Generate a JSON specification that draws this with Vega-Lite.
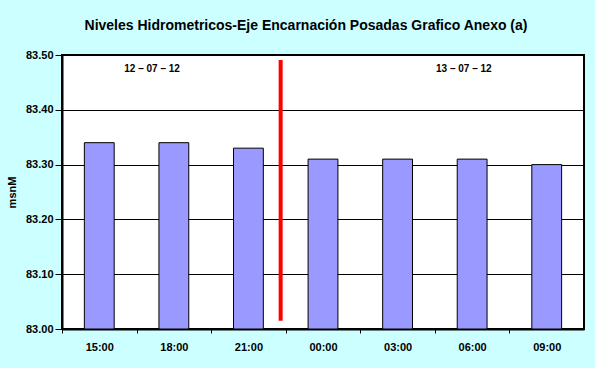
{
  "$schema": "https://vega.github.io/schema/vega-lite/v6.json",
  "width": 522,
  "height": 274,
  "autosize": "none",
  "padding": {"left": 62, "top": 55, "right": 11, "bottom": 39},
  "background": "#CCFFFF",
  "title": {
    "text": "Niveles Hidrometricos-Eje Encarnación Posadas Grafico Anexo (a)",
    "font": "Liberation Sans",
    "fontSize": 14,
    "fontWeight": "bold",
    "color": "black",
    "anchor": "middle",
    "frame": "group",
    "dx": -17,
    "offset": 16
  },
  "config": {
    "font": "Liberation Sans",
    "view": {"fill": "white", "stroke": "black", "strokeWidth": 2},
    "axis": {
      "labelFont": "Liberation Sans",
      "labelFontSize": 11,
      "labelFontWeight": "bold",
      "labelColor": "black",
      "titleFont": "Liberation Sans",
      "titleFontSize": 11,
      "titleFontWeight": "bold",
      "titleColor": "black",
      "tickColor": "black",
      "domainColor": "black",
      "domainWidth": 2
    }
  },
  "datasets": {
    "levels": [
      {"t": "15:00", "v": 83.34},
      {"t": "18:00", "v": 83.34},
      {"t": "21:00", "v": 83.33},
      {"t": "00:00", "v": 83.31},
      {"t": "03:00", "v": 83.31},
      {"t": "06:00", "v": 83.31},
      {"t": "09:00", "v": 83.30}
    ],
    "divider": [{"t": "21:00", "top": 83.491, "bottom": 83.015}],
    "day1": [{"t": "18:00", "y": 83.474, "label": "12 – 07 – 12"}],
    "day2": [{"t": "06:00", "y": 83.474, "label": "13 – 07 – 12"}]
  },
  "layer": [
    {
      "data": {"name": "levels"},
      "mark": {"type": "bar", "fill": "#9999FF", "stroke": "black", "strokeWidth": 1},
      "encoding": {
        "x": {
          "field": "t",
          "type": "nominal",
          "sort": null,
          "scale": {
            "domain": ["15:00", "18:00", "21:00", "00:00", "03:00", "06:00", "09:00"],
            "paddingInner": 0.6,
            "paddingOuter": 0.3
          },
          "axis": {
            "title": null,
            "labelAngle": 0,
            "tickSize": 4,
            "labelPadding": 8,
            "tickOffset": -37.29,
            "labelOffset": 37.29
          }
        },
        "y": {
          "field": "v",
          "type": "quantitative",
          "scale": {"domain": [83, 83.5], "zero": false, "nice": false},
          "axis": {
            "title": "msnM",
            "values": [83, 83.1, 83.2, 83.3, 83.4, 83.5],
            "format": ".2f",
            "tickSize": 7,
            "labelPadding": 2,
            "titlePadding": 8,
            "grid": true,
            "gridColor": "black",
            "gridWidth": 1,
            "gridOpacity": 1
          }
        },
        "y2": {"datum": 83}
      }
    },
    {
      "data": {"name": "divider"},
      "mark": {"type": "rule", "color": "#FF0000", "strokeWidth": 4},
      "encoding": {
        "x": {"field": "t", "type": "nominal", "sort": null, "bandPosition": 1.58},
        "y": {"field": "top", "type": "quantitative"},
        "y2": {"field": "bottom"}
      }
    },
    {
      "data": {"name": "day1"},
      "mark": {"type": "text", "font": "Liberation Sans", "fontSize": 10, "fontWeight": "bold", "color": "black", "align": "center", "baseline": "middle"},
      "encoding": {
        "x": {"field": "t", "type": "nominal", "sort": null, "bandPosition": -0.23},
        "y": {"field": "y", "type": "quantitative"},
        "text": {"field": "label"}
      }
    },
    {
      "data": {"name": "day2"},
      "mark": {"type": "text", "font": "Liberation Sans", "fontSize": 10, "fontWeight": "bold", "color": "black", "align": "center", "baseline": "middle"},
      "encoding": {
        "x": {"field": "t", "type": "nominal", "sort": null, "bandPosition": 0.22},
        "y": {"field": "y", "type": "quantitative"},
        "text": {"field": "label"}
      }
    }
  ]
}
